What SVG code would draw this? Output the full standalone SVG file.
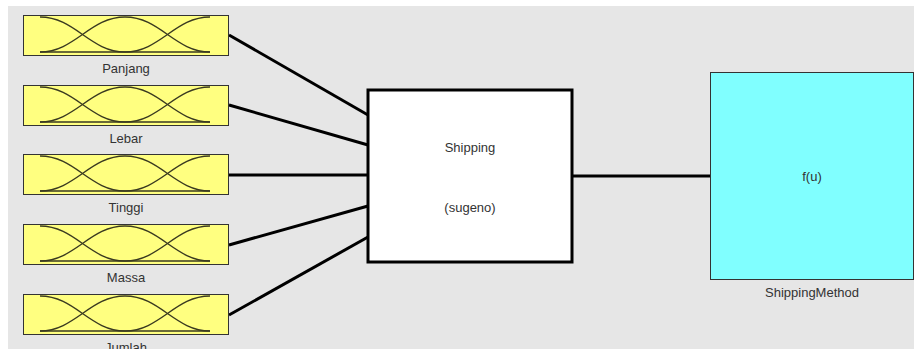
<svg xmlns="http://www.w3.org/2000/svg" xmlns:xlink="http://www.w3.org/1999/xlink" width="914" height="349" viewBox="0 0 914 349">
  <style>
    .bg { fill: #e6e6e6; }
    .in-box { fill: #ffff80; stroke: #333333; stroke-width: 1; }
    .mf { fill: none; stroke: #3a3a20; stroke-width: 1.4; }
    .label { font-family: "Liberation Sans", Arial, sans-serif; font-size: 13px; fill: #333333; text-anchor: middle; }
    .wire { stroke: #000000; stroke-width: 3; fill: none; }
    .fis-box { fill: #ffffff; stroke: #000000; stroke-width: 3; }
    .out-box { fill: #80ffff; stroke: #333333; stroke-width: 1; }
  </style>
  <defs>
    <!-- input block: yellow panel with three gaussian membership functions -->
    <g id="mf-block">
      <rect class="in-box" x="0.5" y="0.5" width="205" height="40"/>
      <path class="mf" d="M17,2 C52,2 67,37 102,37 L187,37"/>
      <path class="mf" d="M17,37 C52,37 67,2 102,2 C137,2 152,37 187,37"/>
      <path class="mf" d="M17,37 L102,37 C137,37 152,2 187,2"/>
    </g>
  </defs>

  <rect x="0" y="0" width="914" height="349" fill="#ffffff"/>
  <rect class="bg" x="8" y="6" width="906" height="343"/>

  <g id="connectors">
    <line class="wire" x1="229" y1="35" x2="368" y2="115"/>
    <line class="wire" x1="229" y1="105" x2="368" y2="145"/>
    <line class="wire" x1="229" y1="175" x2="368" y2="175"/>
    <line class="wire" x1="229" y1="245" x2="368" y2="206"/>
    <line class="wire" x1="229" y1="315" x2="368" y2="237"/>
    <line class="wire" x1="572" y1="176" x2="710" y2="176"/>
  </g>

  <g id="Panjang">
    <use xlink:href="#mf-block" x="23" y="15"/>
    <text class="label" x="126" y="73">Panjang</text>
  </g>
  <g id="Lebar">
    <use xlink:href="#mf-block" x="23" y="85"/>
    <text class="label" x="126" y="143">Lebar</text>
  </g>
  <g id="Tinggi">
    <use xlink:href="#mf-block" x="23" y="154"/>
    <text class="label" x="126" y="212">Tinggi</text>
  </g>
  <g id="Massa">
    <use xlink:href="#mf-block" x="23" y="224"/>
    <text class="label" x="126" y="282">Massa</text>
  </g>
  <g id="Jumlah">
    <use xlink:href="#mf-block" x="23" y="294"/>
    <text class="label" x="126" y="352">Jumlah</text>
  </g>

  <g id="Shipping">
    <rect class="fis-box" x="368" y="90" width="204" height="172"/>
    <text class="label" x="470" y="152">Shipping</text>
    <text class="label" x="470" y="212">(sugeno)</text>
  </g>

  <g id="ShippingMethod">
    <rect class="out-box" x="710.5" y="72.5" width="203" height="207"/>
    <text class="label" x="812" y="181">f(u)</text>
    <text class="label" x="812" y="297">ShippingMethod</text>
  </g>
</svg>
